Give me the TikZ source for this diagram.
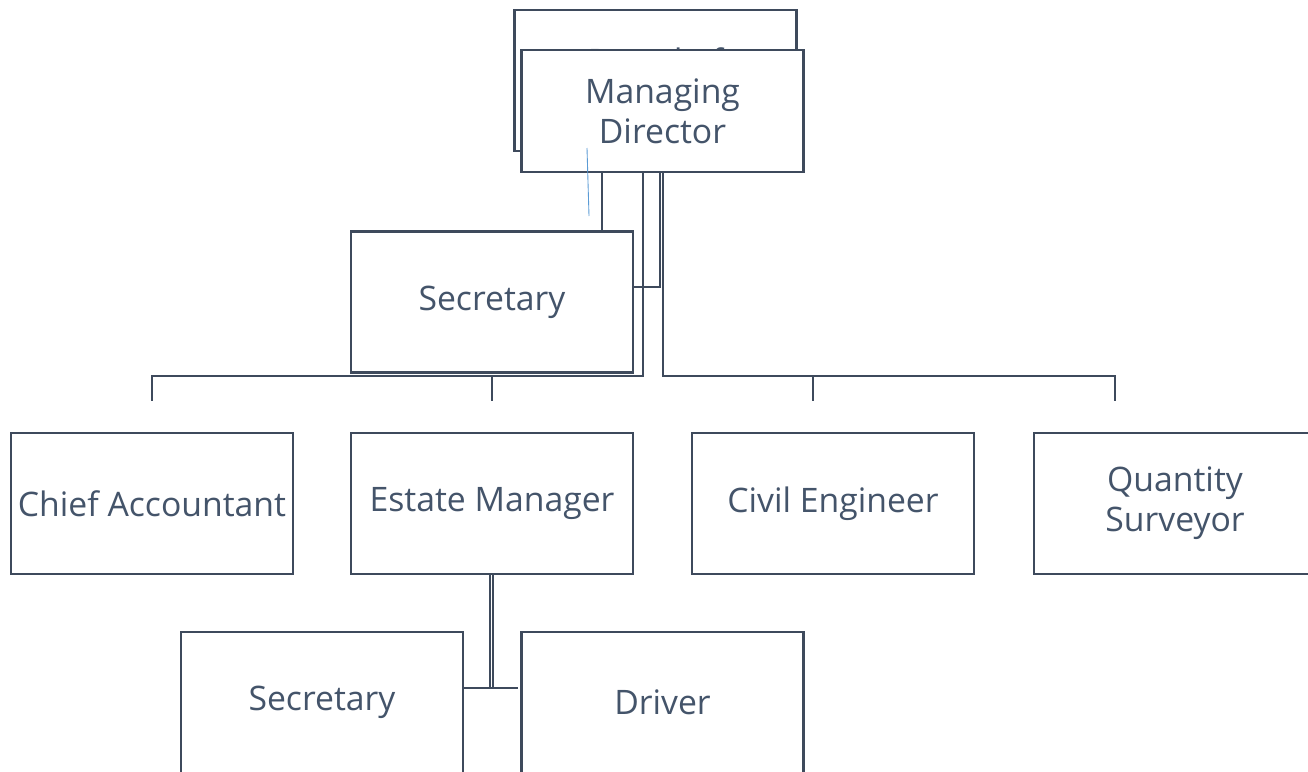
\documentclass[tikz,border=0pt]{standalone}
\usepackage{fontspec}
\setmainfont{Open Sans}
\usepackage{tikz}
\usetikzlibrary{positioning,calc}

\definecolor{slate}{HTML}{44546A}
\definecolor{edge}{HTML}{3E4A5C}
\definecolor{stray}{HTML}{5B9BD5}

\begin{document}
\begin{tikzpicture}[x=0.02cm,y=-0.02cm,
        post/.style={draw=edge,line width=1.3pt,fill=white,text=slate,
            minimum width=5.64cm,minimum height=2.82cm,inner sep=2pt,
            align=center,font=\fontsize{19.2}{22.8}\selectfont},
        conn/.style={draw=edge,line width=1.2pt}]
        \useasboundingbox (0,0) rectangle (1308,771);
        \clip (0,0) rectangle (1308,771);

        %%%% Top ========================================
        \node[post] (bod) at (655.5,80.5) {Board of\\Directors};
        \node[post,minimum height=2.44cm] (md) at (662.5,111) {Managing\\Director};

        % Junctions
        \coordinate (jS) at (660,287);
        \coordinate (jW) at (643,376);
        \coordinate (jE) at (663,376);
        \coordinate (caTop) at (152,401);
        \coordinate (emTop) at (492,401);
        \coordinate (ceTop) at (813,401);
        \coordinate (qsTop) at (1115,401);
        \coordinate (jD) at (490,688);

        % Arcs from the top
        \draw[conn] ($(md.south west)+(82,0)$) -- ($(md.south west)+(82,60)$);
        \draw[conn] (md.south -| jS) -- (jS) -- (633,287);
        \draw[conn] (md.south -| jW) -- (jW) -| (caTop);
        \draw[conn] (emTop |- jW) -- (emTop);
        \draw[conn] (md.south -| jE) -- (jE) -| (qsTop);
        \draw[conn] (ceTop |- jE) -- (ceTop);

        %%%% Middle =====================================
        \node[post] (sec) at (492,302) {Secretary};

        \node[post] (acct) at (152,503.5) {Chief Accountant};
        \node[post] (estate) at (492,503.5) {Estate Manager};
        \node[post] (civil) at (833,503.5) {Civil Engineer};
        \node[post] (qs) at (1175,503.5) {Quantity\\Surveyor};

        % stray stroke
        \coordinate (s1) at (587,148);
        \coordinate (s2) at (589,216);
        \draw[stray,line width=0.5pt] (s1) -- (s2);

        %%%% Bottom =====================================
        \node[post] (sec2) at (322,702.5) {Secretary};
        \node[post] (driver) at (662.5,702.5) {Driver};

        % Arcs to the bottom
        \draw[conn] (estate.south -| jD) -- (jD);
        \draw[conn] ($(estate.south -| jD)+(3,0)$) -- ($(jD)+(3,0)$);
        \draw[conn] (sec2.east |- jD) -- (518,688);
\end{tikzpicture}
\end{document}
